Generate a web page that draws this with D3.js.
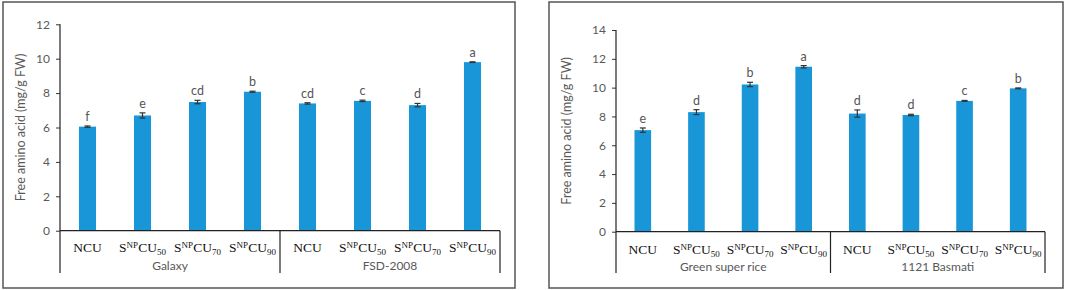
<!DOCTYPE html>
<html><head><meta charset="utf-8">
<script src="https://cdn.jsdelivr.net/npm/d3@7"></script>
<style>
body{margin:0;background:#fff;}
svg text{font-family:"Lato","Open Sans",sans-serif;}
</style></head>
<body><svg id="c" width="1065" height="290"></svg>
<script>
const treatments = ["NCU","S50","S70","S90"];
const groupsA = ["Galaxy","FSD-2008"];
const valuesA = [6.05, 6.7, 7.48, 8.08, 7.4, 7.55, 7.3, 9.8];
const errorsA = [0.04, 0.15, 0.1, 0.03, 0.04, 0.04, 0.1, 0.02];
const lettersA = ["f","e","cd","b","cd","c","d","a"];
const ticksA = [0,2,4,6,8,10,12];

const groupsB = ["Green super rice","1121 Basmati"];
const valuesB = [7.05, 8.3, 10.22, 11.45, 8.2, 8.1, 9.08, 9.95];
const errorsB = [0.15, 0.17, 0.15, 0.08, 0.25, 0.05, 0.03, 0.03];
const lettersB = ["e","d","b","a","d","d","c","b"];
const ticksB = [0,2,4,6,8,10,12,14];

const yTitle = "Free amino acid (mg/g FW)";
const yTitleB = "Free amino acid  (mg/g FW)";
const barColor = "#1996d8";
const svg = d3.select("#c");

function panel(cfg){
  const g = svg.append("g");
  g.append("rect").attr("x",cfg.bx).attr("y",2).attr("width",cfg.bw).attr("height",286)
    .attr("fill","#fff").attr("stroke","#555").attr("stroke-width",1.5);
  const keys = d3.range(cfg.values.length);
  const x = d3.scaleBand().domain(keys).range([cfg.x0,cfg.x1]).paddingInner(0.69).paddingOuter(0.345);
  const xo = d3.scaleBand().domain(keys).range([cfg.x0,cfg.x1]);
  const y = d3.scaleLinear().domain([0,cfg.ymax]).range([cfg.y0,cfg.ytop]);
  g.selectAll("rect.bar").data(cfg.values).join("rect").attr("class","bar")
    .attr("x",(d,i)=>x(i)).attr("width",x.bandwidth())
    .attr("y",d=>y(d)).attr("height",d=>y(0)-y(d)).attr("fill",barColor);
  const eg = g.selectAll("g.err").data(cfg.values).join("g").attr("class","err")
    .attr("stroke","#333").attr("stroke-width",1.2);
  const cxb = i=>x(i)+x.bandwidth()/2;
  eg.append("line").attr("x1",(d,i)=>cxb(i)).attr("x2",(d,i)=>cxb(i))
    .attr("y1",(d,i)=>y(d-cfg.errors[i])).attr("y2",(d,i)=>y(d+cfg.errors[i]));
  eg.append("line").attr("x1",(d,i)=>cxb(i)-3).attr("x2",(d,i)=>cxb(i)+3)
    .attr("y1",(d,i)=>y(d-cfg.errors[i])).attr("y2",(d,i)=>y(d-cfg.errors[i]));
  eg.append("line").attr("x1",(d,i)=>cxb(i)-3).attr("x2",(d,i)=>cxb(i)+3)
    .attr("y1",(d,i)=>y(d+cfg.errors[i])).attr("y2",(d,i)=>y(d+cfg.errors[i]));
  g.selectAll("text.let").data(cfg.values).join("text").attr("class","let")
    .attr("x",(d,i)=>cxb(i)).attr("y",(d,i)=>y(d+cfg.errors[i])-5)
    .attr("text-anchor","middle").attr("font-size",12.5).attr("fill","#555")
    .text((d,i)=>cfg.letters[i]);
  const ya = g.append("g").attr("transform",`translate(${cfg.x0},0)`)
    .call(d3.axisLeft(y).tickValues(cfg.ticks).tickSize(4).tickSizeOuter(0));
  ya.select(".domain").remove();
  ya.selectAll("line").attr("stroke","#333");
  ya.selectAll("text").attr("font-size",12).attr("fill","#595959")
    .attr("font-family","Lato,sans-serif").attr("dx",-3);
  g.append("line").attr("x1",cfg.x0).attr("x2",cfg.x0).attr("y1",cfg.ytop).attr("y2",273)
    .attr("stroke","#222").attr("stroke-width",1.2);
  g.append("line").attr("x1",cfg.x0).attr("x2",cfg.x1).attr("y1",y(0)).attr("y2",y(0))
    .attr("stroke","#222").attr("stroke-width",1.2);
  const mid = xo(4);
  [mid, cfg.x1].forEach(px=>{
    g.append("line").attr("x1",px).attr("x2",px).attr("y1",y(0)).attr("y2",273)
      .attr("stroke","#222").attr("stroke-width",1.2);
  });
  keys.forEach(i=>{
    const t = treatments[i%4];
    const cx = xo(i)+xo.bandwidth()/2;
    const tx = g.append("text").attr("x",cx).attr("y",cfg.y0+cfg.catDy)
      .attr("text-anchor","middle").attr("font-size",13.5).attr("fill","#111")
      .style("font-family","'Liberation Serif',serif");
    if(t==="NCU"){ tx.text("NCU"); }
    else {
      tx.append("tspan").text("S");
      tx.append("tspan").text("NP").attr("font-size",9).attr("dy",-4);
      tx.append("tspan").text("CU").attr("dy",4);
      tx.append("tspan").text(t.slice(1)).attr("font-size",9).attr("dy",2.5);
    }
  });
  cfg.groups.forEach((gname,k)=>{
    const gx = (xo(k*4)+xo(k*4+3)+xo.bandwidth())/2;
    g.append("text").attr("x",gx).attr("y",cfg.y0+39.5).attr("text-anchor","middle")
      .attr("font-size",12).attr("fill","#595959").text(gname);
  });
  g.append("text").attr("transform",`translate(${cfg.tx},${(cfg.ytop+cfg.y0)/2}) rotate(-90)`)
    .attr("text-anchor","middle").attr("font-size",12.5).attr("fill","#595959").text(cfg.title);
}

panel({bx:3,bw:512,x0:60,x1:500,y0:230.7,ytop:24.3,ymax:12,values:valuesA,errors:errorsA,
  letters:lettersA,ticks:ticksA,groups:groupsA,title:yTitle,tx:25,catDy:21.5});
panel({bx:549,bw:514,x0:616,x1:1045,y0:231.7,ytop:30,ymax:14,values:valuesB,errors:errorsB,
  letters:lettersB,ticks:ticksB,groups:groupsB,title:yTitleB,tx:571,catDy:22.5});
</script></body></html>
